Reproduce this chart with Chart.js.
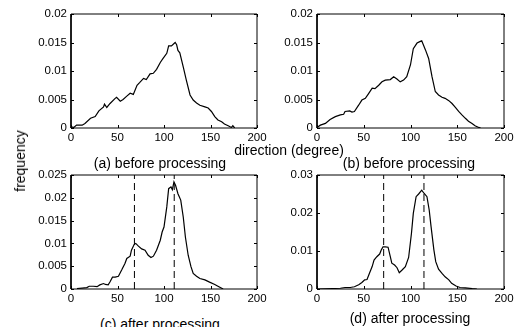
<!DOCTYPE html>
<html>
<head>
<meta charset="utf-8">
<script src="https://cdn.jsdelivr.net/npm/chart.js@4.4.1/dist/chart.umd.min.js"></script>
<style>
    body { margin: 0; background: #fff; width: 517px; height: 327px; position: relative; overflow: hidden; }
    canvas { position: absolute; }
    .lbl { position: absolute; font-family: "Liberation Sans", Arial, sans-serif; font-size: 14px; line-height: 14px; color: #000; white-space: nowrap; transform: translate(-50%, -50%); }
</style>
</head>
<body>

<canvas id="graficoA"></canvas>
<canvas id="graficoB"></canvas>
<canvas id="graficoC"></canvas>
<canvas id="graficoD"></canvas>

<div class="lbl" style="left:160px; top:163px">(a) before processing</div>
<div class="lbl" style="left:289px; top:150px">direction (degree)</div>
<div class="lbl" style="left:409px; top:163px">(b) before processing</div>
<div class="lbl" style="left:20px; top:161px; transform: translate(-50%, -50%) rotate(-90deg)">frequency</div>
<div class="lbl" style="left:160px; top:324px">(c) after processing</div>
<div class="lbl" style="left:410px; top:318px">(d) after processing</div>

<script>
// ---------- dados ----------
const xTicks = [0, 50, 100, 150, 200];

const degA = [0, 3, 6, 12, 15, 21, 26, 30, 35, 36, 38.5, 42, 47.5, 49, 53, 56, 60, 63.6, 67, 71, 74, 78, 81, 85, 88.5, 92, 96, 99, 103, 105, 108, 112, 113.6, 115, 117, 121, 124, 128, 131.4, 135, 138.6, 144, 147.5, 151, 154.6, 158, 162, 165, 169, 172.5, 174, 176];
const freqA = [0.0002, 0.0001, 0.0005, 0.0005, 0.0008, 0.0017, 0.002, 0.003, 0.0037, 0.0042, 0.0036, 0.0043, 0.0052, 0.0054, 0.0047, 0.005, 0.0056, 0.0061, 0.0059, 0.0075, 0.008, 0.0087, 0.0085, 0.0095, 0.0096, 0.0103, 0.0115, 0.0122, 0.0131, 0.0144, 0.0144, 0.015, 0.0146, 0.0136, 0.0132, 0.0105, 0.0084, 0.0058, 0.0049, 0.0044, 0.004, 0.0037, 0.0035, 0.0029, 0.002, 0.0014, 0.0011, 0.0007, 0.0004, 0.0001, 0.0004, 0];
const yTicksA = [0, 0.005, 0.01, 0.015, 0.02];

const degB = [0, 3.6, 9, 14, 19.6, 25, 28.5, 30, 35, 37.4, 40, 44.5, 48, 51.7, 55, 59, 62, 66, 69.5, 73, 78.4, 82, 85.5, 89, 92.6, 96, 100, 103, 107, 110.5, 112, 116, 119.4, 123, 126.5, 130, 133.7, 137, 141, 144.4, 148, 151.5, 155, 158.7, 162, 165.8, 169, 173, 175];
const freqB = [0.0001, 0.0005, 0.0008, 0.0015, 0.002, 0.0023, 0.0024, 0.0029, 0.003, 0.0028, 0.0029, 0.004, 0.0049, 0.0052, 0.006, 0.007, 0.0069, 0.0075, 0.0081, 0.0084, 0.0085, 0.009, 0.0086, 0.0081, 0.0084, 0.009, 0.0111, 0.0139, 0.0149, 0.0152, 0.0153, 0.0137, 0.0122, 0.009, 0.0064, 0.0058, 0.0054, 0.0052, 0.0048, 0.0043, 0.0036, 0.0029, 0.0023, 0.0017, 0.0012, 0.0008, 0.0004, 0.0001, 0];
const yTicksB = [0, 0.005, 0.01, 0.015, 0.02];

const degC = [6.4, 12, 17, 19.6, 24, 28, 31, 35, 37, 40, 42, 44.6, 47.5, 51, 54.6, 58, 60, 63.6, 65, 68, 69.6, 72.5, 76, 79.6, 83, 86, 88.6, 92, 96, 98, 100, 103, 105, 107.5, 109, 110.7, 112.5, 115, 118, 120.7, 123, 126, 129, 131.4, 135, 138.6, 144, 149, 154.6, 159, 163.6];
const freqC = [0.0001, 0.0002, 0.0003, 0.0006, 0.0006, 0.0005, 0.0009, 0.0012, 0.001, 0.0009, 0.0016, 0.0026, 0.0026, 0.0028, 0.0042, 0.0056, 0.0067, 0.0072, 0.0085, 0.0098, 0.01, 0.0094, 0.0088, 0.0085, 0.0074, 0.0069, 0.0072, 0.0085, 0.0107, 0.0125, 0.0136, 0.018, 0.022, 0.0224, 0.0218, 0.0235, 0.0227, 0.0209, 0.0195, 0.0158, 0.0114, 0.0074, 0.0049, 0.0034, 0.0028, 0.0023, 0.002, 0.0015, 0.001, 0.0005, 0];
const yTicksC = [0, 0.005, 0.01, 0.015, 0.02, 0.025];
const picosC = [68.2, 111];

const degD = [0, 25, 30, 35.6, 40, 44.6, 48, 51, 53.5, 56, 59, 61, 64, 67, 68.8, 70.6, 73, 76, 78.4, 80, 83, 85.6, 88, 91, 94.5, 98, 101, 103, 106, 108.7, 112, 114.4, 117.6, 120, 122, 125, 127, 130, 133.7, 137, 141, 144, 148.7, 153, 158.6, 166, 171];
const freqD = [0, 0.0002, 0.0004, 0.0004, 0.0006, 0.0011, 0.0017, 0.0024, 0.0025, 0.0041, 0.0059, 0.0076, 0.0085, 0.0092, 0.0103, 0.0111, 0.0111, 0.011, 0.0085, 0.0068, 0.0063, 0.0056, 0.0043, 0.005, 0.0059, 0.0083, 0.0146, 0.0199, 0.0243, 0.025, 0.026, 0.0252, 0.0243, 0.0208, 0.0164, 0.0103, 0.0072, 0.0052, 0.0041, 0.0032, 0.0024, 0.0015, 0.0008, 0.0004, 0.0003, 0.0001, 0];
const yTicksD = [0, 0.01, 0.02, 0.03];
const picosD = [71.3, 114.4];

// ---------- desenho ----------
const FONTE = "'Liberation Sans', Arial, sans-serif";

// marcas de escala para dentro (estilo MATLAB), uma por gráfico
function criarMarcas(yTicks) {
    return {
        id: "marcas",
        afterDatasetsDraw(chart) {
            const ctx = chart.ctx, a = chart.chartArea, sx = chart.scales.x, sy = chart.scales.y;
            ctx.save();
            ctx.strokeStyle = "#000";
            ctx.lineWidth = 1;
            ctx.beginPath();
            xTicks.forEach(v => {
                const px = Math.round(sx.getPixelForValue(v)) + 0.5;
                ctx.moveTo(px, a.bottom); ctx.lineTo(px, a.bottom - 3);
                ctx.moveTo(px, a.top); ctx.lineTo(px, a.top + 3);
            });
            yTicks.forEach(v => {
                const py = Math.round(sy.getPixelForValue(v)) + 0.5;
                ctx.moveTo(a.left, py); ctx.lineTo(a.left + 3, py);
                ctx.moveTo(a.right, py); ctx.lineTo(a.right - 3, py);
            });
            ctx.stroke();
            ctx.restore();
        }
    };
}

function montarGrafico(id, pos, graus, freq, yTicks, picos) {
    const cv = document.getElementById(id);
    const esq = 50, topo = 8, dir = 14, base = 20;
    cv.style.left = (pos.left - esq) + "px";
    cv.style.top = (pos.top - topo) + "px";
    cv.width = pos.right - pos.left + esq + dir;
    cv.height = pos.bottom - pos.top + topo + base;

    const xMin = xTicks[0], xMax = xTicks[xTicks.length - 1];
    const yMax = yTicks[yTicks.length - 1];

    // curva
    const datasets = [{
        data: graus.map((g, i) => ({ x: g, y: freq[i] })),
        borderColor: "#000", borderWidth: 1.2,
        pointRadius: 0
    }];
    // linhas tracejadas nos picos
    (picos || []).forEach(p => datasets.push({
        data: [{ x: p, y: 0 }, { x: p, y: yMax }],
        borderColor: "#000", borderWidth: 1, borderDash: [7, 4],
        pointRadius: 0
    }));
    // moldura nos limites dos eixos
    datasets.push({
        data: [{ x: xMin, y: 0 }, { x: xMax, y: 0 }, { x: xMax, y: yMax }, { x: xMin, y: yMax }, { x: xMin, y: 0 }],
        borderColor: "#000", borderWidth: 1,
        pointRadius: 0, clip: false
    });

    new Chart(cv, {
        type: "line",
        data: { datasets },
        plugins: [criarMarcas(yTicks)],
        options: {
            responsive: false, animation: false,
            layout: { padding: { top: topo, right: dir, left: 0, bottom: 0 } },
            plugins: { legend: { display: false }, tooltip: { enabled: false } },
            scales: {
                x: {
                    type: "linear", min: xMin, max: xMax,
                    afterBuildTicks: s => { s.ticks = xTicks.map(v => ({ value: v })); },
                    afterFit: s => { s.height = base; s.paddingLeft = 0; s.paddingRight = 0; },
                    grid: { display: false, drawTicks: false },
                    border: { display: false },
                    ticks: { color: "#000", padding: 3, maxRotation: 0, autoSkip: false, font: { family: FONTE, size: 11.5 } }
                },
                y: {
                    min: 0, max: yMax,
                    afterBuildTicks: s => { s.ticks = yTicks.map(v => ({ value: v })); },
                    afterFit: s => { s.width = esq; s.paddingTop = 0; s.paddingBottom = 0; },
                    grid: { display: false, drawTicks: false },
                    border: { display: false },
                    ticks: {
                        color: "#000", padding: 4, autoSkip: false,
                        font: { family: FONTE, size: 11.5 },
                        callback: v => String(+v.toFixed(4))
                    }
                }
            }
        }
    });
}

montarGrafico("graficoA", { left: 71, right: 257, top: 14, bottom: 128 }, degA, freqA, yTicksA);
montarGrafico("graficoB", { left: 317, right: 504, top: 14, bottom: 128 }, degB, freqB, yTicksB);
montarGrafico("graficoC", { left: 71, right: 257, top: 175, bottom: 289 }, degC, freqC, yTicksC, picosC);
montarGrafico("graficoD", { left: 317, right: 504, top: 175, bottom: 289 }, degD, freqD, yTicksD, picosD);
</script>
</body>
</html>
